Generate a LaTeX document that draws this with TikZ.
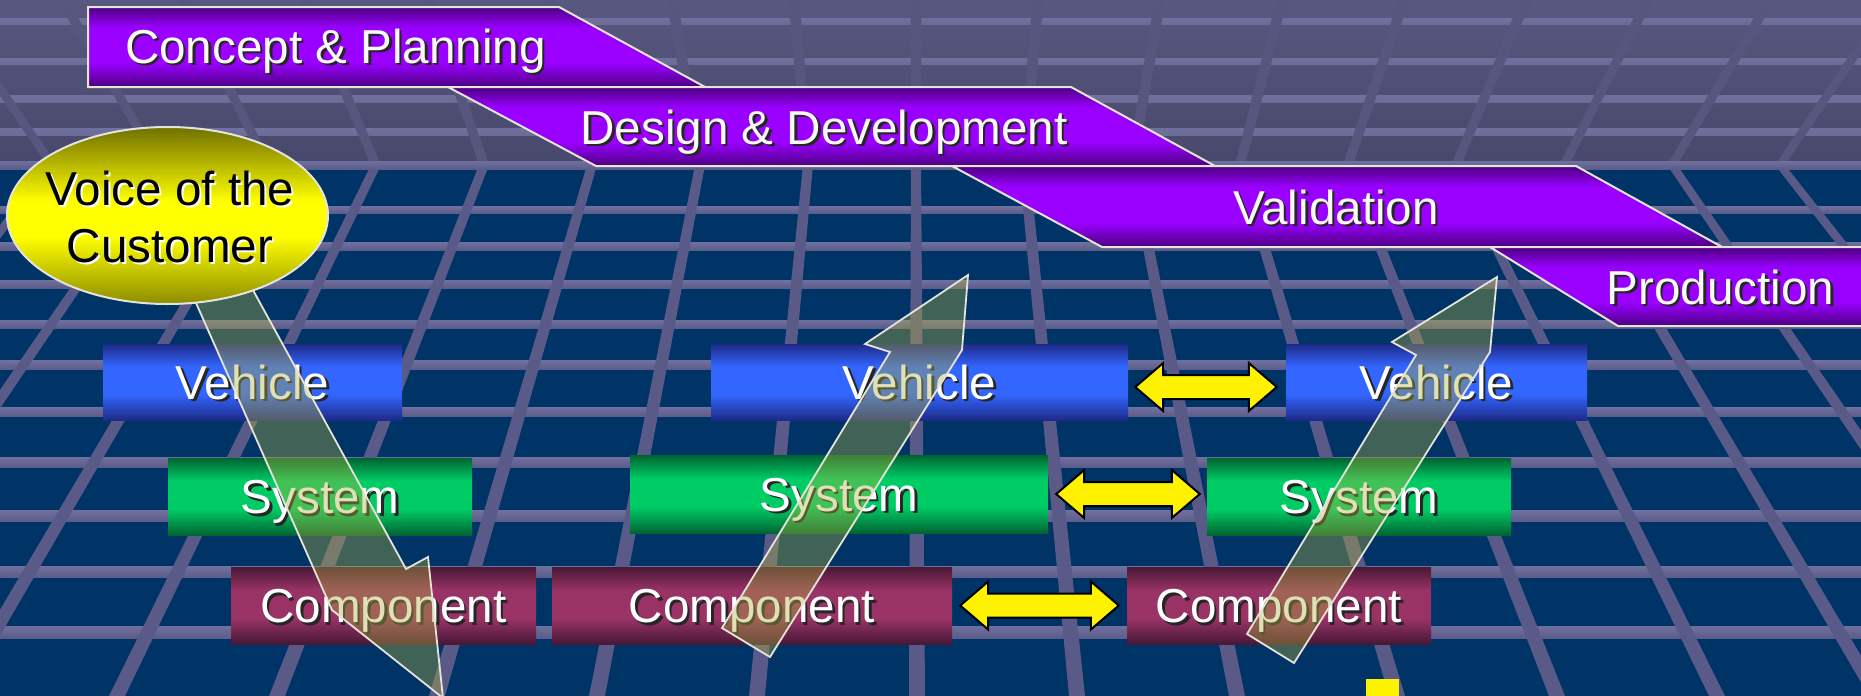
\documentclass[tikz,border=0pt]{standalone}
\usepackage{fontspec}
\setmainfont{Liberation Sans}
\usetikzlibrary{calc,shapes.geometric}

% palette
\definecolor{floorblue}{RGB}{0,51,102}
\definecolor{ceiltop}{RGB}{88,88,128}
\definecolor{ceilbot}{RGB}{72,72,108}
\definecolor{ceilline}{RGB}{86,86,126}
\definecolor{ceilband}{RGB}{108,108,150}
\definecolor{gridline}{RGB}{90,90,136}
\definecolor{gridbandhi}{RGB}{112,112,158}
\definecolor{gridbandlo}{RGB}{92,92,138}
\definecolor{vehdk}{RGB}{30,42,136}
\definecolor{vehbr}{RGB}{51,102,255}
\definecolor{sysdk}{RGB}{0,100,50}
\definecolor{sysbr}{RGB}{0,204,102}
\definecolor{comdk}{RGB}{72,24,54}
\definecolor{combr}{RGB}{153,51,102}
\definecolor{phdk}{RGB}{76,0,128}
\definecolor{phbr}{RGB}{153,0,255}
\definecolor{voctop}{RGB}{112,112,0}
\definecolor{vocbot}{RGB}{140,140,0}
\definecolor{vocbr}{RGB}{255,255,0}
\definecolor{flowfill}{RGB}{173,176,62}
\definecolor{edgegray}{RGB}{228,228,218}

% bands: dark edges, bright plateau in the middle
\pgfdeclareverticalshading{vehshade}{100bp}{color(0bp)=(vehdk); color(25bp)=(vehdk); color(42bp)=(vehbr); color(60bp)=(vehbr); color(75bp)=(vehdk); color(100bp)=(vehdk)}
\pgfdeclareverticalshading{sysshade}{100bp}{color(0bp)=(sysdk); color(25bp)=(sysdk); color(42bp)=(sysbr); color(60bp)=(sysbr); color(75bp)=(sysdk); color(100bp)=(sysdk)}
\pgfdeclareverticalshading{comshade}{100bp}{color(0bp)=(comdk); color(25bp)=(comdk); color(42bp)=(combr); color(60bp)=(combr); color(75bp)=(comdk); color(100bp)=(comdk)}
\pgfdeclareverticalshading{phshade}{100bp}{color(0bp)=(phdk); color(25bp)=(phdk); color(40bp)=(phbr); color(62bp)=(phbr); color(75bp)=(phdk); color(100bp)=(phdk)}
\pgfdeclareverticalshading{vocshade}{100bp}{color(0bp)=(vocbot); color(25bp)=(vocbot); color(44bp)=(vocbr); color(54bp)=(vocbr); color(75bp)=(voctop); color(100bp)=(voctop)}

\newcommand\bigfont{\fontsize{47.6}{57}\selectfont}
\newcommand\dshadow[1]{\rlap{\kern2.5pt\raisebox{-2.5pt}{\textcolor{black!85}{#1}}}#1}
\newcommand\lshadow[1]{\rlap{\kern2pt\raisebox{-2pt}{\textcolor{white}{#1}}}#1}
\newcommand\twoway[2]{%
  \draw[dbl] (#1) -- ++(28,-24) -- ++(0,12) -- ($(#2)+(-28,-12)$) -- ++(0,-12)
    -- (#2) -- ++(-28,24) -- ++(0,-12) -- ($(#1)+(28,12)$) -- ++(0,12) -- cycle;}

\tikzset{
  box/.style={shade, minimum height=77pt, inner sep=0pt, text=white, font=\bigfont,
              text height=34pt, text depth=0pt},
  phase/.style={shade, shading=phshade, draw=edgegray, line width=2pt, line join=miter},
  phasetext/.style={anchor=base, inner sep=0pt, text=white!95!gray, font=\bigfont},
  dbl/.style={fill=yellow, draw=black, line width=2pt, line join=miter},
  flow/.style={fill=flowfill, fill opacity=0.38, draw=edgegray, line width=1.8pt, line join=miter},
}

\begin{document}
\begin{tikzpicture}[x=1pt,y=-1pt]
\useasboundingbox (0,0) rectangle (1861,696);
\clip (0,0) rectangle (1861,696);

% ---- room: ceiling and floor grid ----
\fill[floorblue] (0,165) rectangle (1861,696);
\shade[top color=ceiltop, bottom color=ceilbot] (0,0) rectangle (1861,165);

\foreach \y/\t in {21/6,61/6,99/7,132/7}
  \shade[top color=gridbandhi, bottom color=ceilband] (0,{\y-\t/2}) rectangle (1861,{\y+\t/2});
\foreach \i in {-9,...,9}
  \fill[ceilline] ({916+122*\i-5.5},0) -- ({916+122*\i+5.5},0)
    -- ({916+108*\i+5},165) -- ({916+108*\i-5},165) -- cycle;

\foreach \y/\t in {210/7,246/8,284/8,324/8,365/9,412/9,462/10,516/11,572/11,632/12}
  \shade[top color=gridbandhi, bottom color=gridbandlo] (0,{\y-\t/2}) rectangle (1861,{\y+\t/2});
\foreach \i in {-8,...,8}
  \fill[gridline] ({916+108*\i-5},165) -- ({916+108*\i+5},165)
    -- ({917+160*\i+8},696) -- ({917+160*\i-8},696) -- cycle;
\shade[top color=gridbandhi, bottom color=gridbandlo] (0,161) rectangle (1861,169);

% ---- development phases ----
\path[phase] (88,7) -- (559,7) -- (705,87) -- (88,87) -- cycle;
\path[phase] (448,87) -- (1071,87) -- (1215,166) -- (596,166) -- cycle;
\path[phase] (952,166) -- (1576,166) -- (1722,247) -- (1102,247) -- cycle;
\path[phase] (1490,247) -- (1880,247) -- (1880,326) -- (1618,326) -- cycle;
\node[phasetext] (p1) at (335.5,63) {\dshadow{Concept \& Planning}};
\node[phasetext] (p2) at (824,144) {\dshadow{Design \& Development}};
\node[phasetext] (p3) at (1336,224) {\dshadow{Validation}};
\node[phasetext] (p4) at (1720.5,304) {\dshadow{Production}};

% ---- levels ----
\node[box, shading=vehshade, minimum width=299pt, minimum height=76pt] (V1) at (252.5,382) {\dshadow{Vehicle}};
\node[box, shading=vehshade, minimum width=417pt, minimum height=76pt] (V2) at (919.5,382) {\dshadow{Vehicle}};
\node[box, shading=vehshade, minimum width=301pt, minimum height=76pt] (V3) at (1436.5,382) {\dshadow{Vehicle}};
\node[box, shading=sysshade, minimum width=304pt] (S1) at (320,496.5) {\dshadow{System}};
\node[box, shading=sysshade, minimum width=418pt, minimum height=78pt] (S2) at (839,494) {\dshadow{System}};
\node[box, shading=sysshade, minimum width=304pt] (S3) at (1359,496.5) {\dshadow{System}};
\node[box, shading=comshade, minimum width=305pt] (C1) at (383.5,605.5) {\dshadow{Component}};
\node[box, shading=comshade, minimum width=400pt] (C2) at (752,605.5) {\dshadow{Component}};
\node[box, shading=comshade, minimum width=304pt] (C3) at (1279,605.5) {\dshadow{Component}};

% ---- two-way links between levels ----
\path (V2.east) ++(7,5) coordinate (d1l);
\path (V3.west) ++(-9,5) coordinate (d1r);
\path (S2.east) ++(8,0) coordinate (d2l);
\path (S3.west) ++(-7,-2.5) coordinate (d2r);
\path (C2.east) ++(8,0) coordinate (d3l);
\path (C3.west) ++(-8,0) coordinate (d3r);
\twoway{d1l}{d1r}
\twoway{d2l}{d2r}
\twoway{d3l}{d3r}

% ---- flow arrows ----
\path[flow] (177,260) -- (231,250) -- (406,569) -- (428,557) -- (443,698)
  -- (332,610) -- cycle;
\path[flow] (722,628) -- (770,657) -- (962,350) -- (968,275) -- (865,344)
  -- (890,352) -- cycle;
\path[flow] (1247,634) -- (1294,663) -- (1490,352) -- (1497,277) -- (1392,342)
  -- (1416,355) -- cycle;

% ---- voice of the customer ----
\node[ellipse, minimum width=321pt, minimum height=177pt, inner sep=0pt,
      draw=edgegray, line width=2pt, shade, shading=vocshade]
  (voc) at (167.5,215.5) {};
\node[align=center, font=\bigfont, text=black, inner sep=0pt] (voct) at (170,217.5)
  {\lshadow{Voice of the}\\\lshadow{Customer}};

\node[fill=yellow, minimum width=33pt, minimum height=18pt, inner sep=0pt] (mark) at (1382.5,687.5) {};
\end{tikzpicture}
\end{document}
